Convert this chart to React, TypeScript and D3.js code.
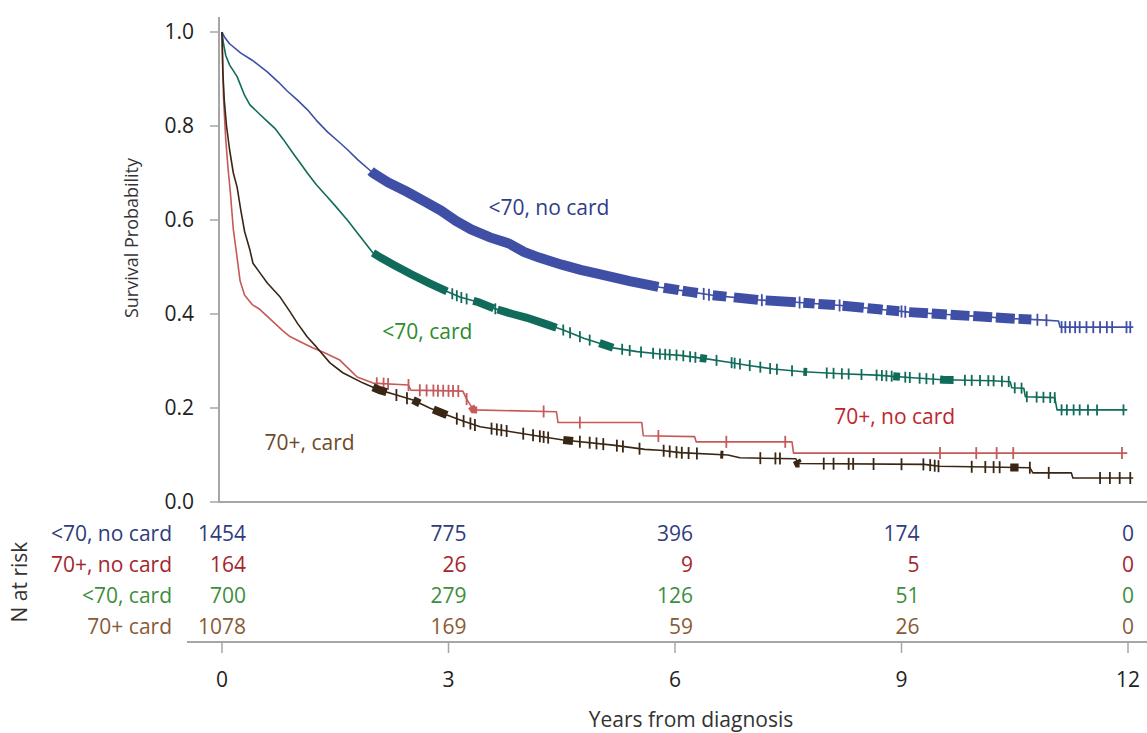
import * as d3 from 'd3'
import {useRef, useLayoutEffect} from 'react'

const W = 1147
const H = 733

const years = [0, 3, 6, 9, 12]
const yTicks = [0, 0.2, 0.4, 0.6, 0.8, 1.0]
const groupNames = ['<70, no card', '70+, no card', '<70, card', '70+ card']

// numbers at risk, one array per group (columns = years)
const riskYoungNoCard = [1454, 775, 396, 174, 0]
const riskOldNoCard = [164, 26, 9, 5, 0]
const riskYoungCard = [700, 279, 126, 51, 0]
const riskOldCard = [1078, 169, 59, 26, 0]

// Kaplan-Meier curves: [years, survival]
const youngNoCard = [
  [0, 1.0], [0.03, 0.99], [0.1, 0.975], [0.25, 0.955], [0.4, 0.94], [0.6, 0.915], [0.75, 0.893],
  [0.86, 0.875], [1.0, 0.855], [1.13, 0.835], [1.25, 0.812], [1.4, 0.787], [1.55, 0.766], [1.66, 0.75],
  [1.8, 0.728], [2.0, 0.70], [2.2, 0.68], [2.45, 0.66], [2.7, 0.638], [2.9, 0.62], [3.1, 0.598],
  [3.3, 0.58], [3.55, 0.563], [3.8, 0.55], [4.0, 0.532], [4.2, 0.52], [4.5, 0.505], [4.75, 0.494],
  [5.0, 0.485], [5.4, 0.47], [5.8, 0.457], [6.2, 0.447], [6.5, 0.44], [7.1, 0.43], [7.6, 0.425],
  [8.2, 0.418], [8.7, 0.41], [9.1, 0.404], [9.6, 0.399], [10.0, 0.395], [10.5, 0.39], [10.9, 0.387],
  [11.08, 0.385], [11.1, 0.372], [12.07, 0.372],
]
const youngCard = [
  [0, 1.0], [0.02, 0.975], [0.05, 0.95], [0.1, 0.93], [0.2, 0.905], [0.3, 0.865], [0.37, 0.845],
  [0.5, 0.825], [0.6, 0.81], [0.7, 0.795], [0.81, 0.772], [0.95, 0.74], [1.05, 0.718], [1.13, 0.70],
  [1.25, 0.675], [1.39, 0.65], [1.5, 0.63], [1.66, 0.60], [1.83, 0.565], [2.0, 0.53], [2.1, 0.52],
  [2.27, 0.505], [2.5, 0.485], [2.75, 0.465], [2.98, 0.448], [3.15, 0.436], [3.4, 0.425], [3.6, 0.412],
  [3.85, 0.4], [4.04, 0.392], [4.3, 0.378], [4.52, 0.366], [4.8, 0.348], [5.0, 0.338], [5.18, 0.328],
  [5.5, 0.32], [5.8, 0.315], [6.07, 0.312], [6.4, 0.305], [6.69, 0.298], [7.0, 0.29], [7.3, 0.283],
  [7.7, 0.277], [8.2, 0.273], [8.67, 0.27], [9.1, 0.265], [9.55, 0.26], [10.2, 0.258], [10.44, 0.256],
  [10.46, 0.243], [10.62, 0.242], [10.64, 0.224], [11.03, 0.222], [11.06, 0.196], [11.99, 0.196],
]
const oldNoCard = [
  [0, 1.0], [0.02, 0.86], [0.05, 0.77], [0.08, 0.71], [0.11, 0.66], [0.15, 0.58], [0.2, 0.52],
  [0.24, 0.47], [0.3, 0.44], [0.4, 0.42], [0.5, 0.41], [0.6, 0.395], [0.7, 0.38], [0.8, 0.365],
  [0.9, 0.352], [1.05, 0.34], [1.2, 0.328], [1.35, 0.318], [1.56, 0.302], [1.7, 0.28], [1.79, 0.266],
  [2.0, 0.253], [2.47, 0.249], [2.5, 0.238], [3.19, 0.236], [3.24, 0.219], [3.33, 0.196], [4.43, 0.192],
  [4.45, 0.169], [5.56, 0.169], [5.58, 0.141], [6.26, 0.139], [6.28, 0.128], [7.55, 0.128], [7.57, 0.104],
  [11.99, 0.104],
]
const oldCard = [
  [0, 1.0], [0.01, 0.92], [0.03, 0.855], [0.06, 0.80], [0.1, 0.75], [0.15, 0.70], [0.2, 0.67],
  [0.25, 0.62], [0.3, 0.575], [0.37, 0.536], [0.41, 0.508], [0.5, 0.488], [0.6, 0.466], [0.77, 0.436],
  [0.9, 0.405], [1.0, 0.38], [1.13, 0.351], [1.25, 0.33], [1.43, 0.296], [1.6, 0.275], [1.87, 0.253],
  [2.09, 0.238], [2.3, 0.228], [2.53, 0.217], [2.75, 0.2], [2.98, 0.185], [3.2, 0.172], [3.42, 0.16],
  [3.85, 0.149], [4.2, 0.14], [4.52, 0.132], [5.18, 0.121], [5.6, 0.112], [5.8, 0.11], [6.07, 0.105],
  [6.7, 0.1], [6.86, 0.094], [7.6, 0.092], [7.63, 0.082], [9.3, 0.08], [9.5, 0.076], [10.7, 0.073],
  [10.74, 0.062], [11.25, 0.062], [11.27, 0.051], [12.07, 0.051],
]

// censoring: runs where the marks merge into a solid band, plus single marks
const youngNoCardRuns = [
  [1.97, 5.78], [5.85, 6.05], [6.1, 6.3], [6.5, 6.68], [6.78, 7.1], [7.2, 7.6], [7.7, 7.85], [7.9, 8.12],
  [8.22, 8.5], [8.55, 8.75], [8.8, 8.97], [9.1, 9.35], [9.4, 9.6], [9.65, 9.9], [9.95, 10.2], [10.25, 10.5],
  [10.55, 10.72],
]
const youngNoCardMarks = [
  6.38, 6.45, 7.15, 7.65, 8.18, 9.0, 9.05, 10.8, 10.92, 11.12, 11.17, 11.23, 11.3, 11.36, 11.45, 11.54,
  11.63, 11.72, 11.79, 11.98, 12.03,
]
const youngCardRuns = [[2.0, 2.98], [3.33, 3.6], [3.65, 4.43], [5.0, 5.18], [6.33, 6.42], [7.7, 7.75], [8.89, 8.98], [9.51, 9.69]]
const youngCardMarks = [
  3.05, 3.11, 3.17, 3.24, 3.62, 4.52, 4.61, 4.74, 4.87, 5.3, 5.4, 5.55, 5.71, 5.80, 5.87, 5.93, 6.02,
  6.11, 6.20, 6.27, 6.55, 6.75, 6.79, 6.86, 6.99, 7.13, 7.26, 7.35, 7.55, 8.01, 8.10, 8.21, 8.30, 8.47,
  8.67, 8.74, 8.80, 8.87, 9.05, 9.11, 9.24, 9.33, 9.42, 9.84, 9.93, 10.04, 10.15, 10.22, 10.33, 10.42,
  10.50, 10.59, 10.66, 10.79, 10.88, 10.97, 11.03, 11.12, 11.19, 11.28, 11.36, 11.47, 11.59, 11.94,
]
const oldNoCardRuns = [[3.3, 3.38]]
const oldNoCardMarks = [
  2.05, 2.14, 2.20, 2.47, 2.62, 2.71, 2.80, 2.86, 2.93, 3.0, 3.06, 3.13, 3.24, 4.26, 4.74, 5.78, 6.68,
  7.46, 9.51, 9.99, 10.26, 10.48, 11.92,
]
const oldCardRuns = [[2.0, 2.18], [2.53, 2.62], [2.8, 2.98], [4.52, 4.65], [6.6, 6.64], [7.61, 7.65], [10.44, 10.55]]
const oldCardMarks = [
  2.31, 2.45, 3.11, 3.2, 3.29, 3.35, 3.57, 3.64, 3.70, 3.77, 3.99, 4.12, 4.21, 4.26, 4.32, 4.74, 4.87,
  4.96, 5.05, 5.23, 5.31, 5.53, 5.85, 5.93, 6.02, 6.09, 6.18, 6.29, 7.13, 7.33, 7.39, 7.97, 8.10, 8.30,
  8.36, 8.63, 9.00, 9.29, 9.38, 9.44, 9.49, 9.93, 10.11, 10.22, 10.30, 10.70, 10.95, 11.63, 11.76, 11.89,
  12.03,
]

const FONT = '"Open Sans", sans-serif'
const AXIS = '#a6a6a6'
const FS = 21

const series = [
  {pts: oldNoCard, runs: oldNoCardRuns, marks: oldNoCardMarks, color: '#c55a5a', band: 7, mh: 6,
    label: '70+, no card', labelColor: '#c0262d', at: [8.91, 0.181]},
  {pts: youngCard, runs: youngCardRuns, marks: youngCardMarks, color: '#116b5b', band: 8, mh: 5.5,
    label: '<70, card', labelColor: '#2e8b2e', at: [2.72, 0.362]},
  {pts: youngNoCard, runs: youngNoCardRuns, marks: youngNoCardMarks, color: '#3f4fa6', band: 10, mh: 6,
    label: '<70, no card', labelColor: '#2f3c88', at: [4.33, 0.626]},
  {pts: oldCard, runs: oldCardRuns, marks: oldCardMarks, color: '#3a2614', band: 8, mh: 6,
    label: '70+, card', labelColor: '#6e4a2a', at: [1.16, 0.126]},
]

const riskRows = [
  {vals: riskYoungNoCard, color: '#2f3c7e'},
  {vals: riskOldNoCard, color: '#a3262e'},
  {vals: riskYoungCard, color: '#3e8e3e'},
  {vals: riskOldCard, color: '#8a5a35'},
]

const App = () => {
  const svgRef = useRef(null)

  useLayoutEffect(() => {
    const svg = d3.select(svgRef.current)
    svg.selectAll('*').remove()

    const x = d3.scaleLinear().domain([0, 12]).range([222, 1128])
    const y = d3.scaleLinear().domain([0, 1]).range([502, 32])
    const row = d3.scalePoint().domain(groupNames).range([534, 627])

    const line = d3.line().x((d) => x(d[0])).y((d) => y(d[1]))
    const bis = d3.bisector((d) => d[0]).right
    // height of the drawn line at time t (for placing censor marks on it)
    const onLine = (pts, t) => {
      const i = bis(pts, t)
      if (i <= 0) return pts[0][1]
      if (i >= pts.length) return pts[pts.length - 1][1]
      const [t0, s0] = pts[i - 1]
      const [t1, s1] = pts[i]
      return s0 + (s1 - s0) * (t - t0) / (t1 - t0)
    }

    // axes
    svg.append('line').attr('x1', 219).attr('x2', 219).attr('y1', 17).attr('y2', 502)
      .attr('stroke', AXIS).attr('stroke-width', 2)
    svg.append('line').attr('x1', 218).attr('x2', W).attr('y1', 502).attr('y2', 502)
      .attr('stroke', AXIS).attr('stroke-width', 2)

    const yg = svg.append('g')
    yg.selectAll('line').data(yTicks).join('line')
      .attr('x1', 210).attr('x2', 219).attr('y1', (d) => y(d)).attr('y2', (d) => y(d))
      .attr('stroke', AXIS).attr('stroke-width', 1.5)
    yg.selectAll('text').data(yTicks).join('text')
      .attr('x', 194).attr('y', (d) => y(d)).attr('dy', '0.35em')
      .attr('text-anchor', 'end').attr('font-size', FS).attr('fill', '#222')
      .attr('font-family', FONT).text((d) => d3.format('.1f')(d))

    svg.append('text').attr('transform', 'translate(138,238) rotate(-90)')
      .attr('text-anchor', 'middle').attr('font-size', 18).attr('fill', '#333')
      .attr('font-family', FONT).text('Survival Probability')

    // curves
    series.forEach((s) => {
      const g = svg.append('g')
      g.append('path').attr('d', line(s.pts)).attr('fill', 'none')
        .attr('stroke', s.color).attr('stroke-width', 1.6).attr('stroke-linejoin', 'round')
      s.runs.forEach(([a, b]) => {
        const seg = [[a, onLine(s.pts, a)], ...s.pts.filter((p) => p[0] > a && p[0] < b), [b, onLine(s.pts, b)]]
        g.append('path').attr('d', line(seg)).attr('fill', 'none')
          .attr('stroke', s.color).attr('stroke-width', s.band).attr('stroke-linecap', 'butt')
      })
      g.selectAll('line.m').data(s.marks).join('line')
        .attr('class', 'm')
        .attr('x1', (t) => x(t)).attr('x2', (t) => x(t))
        .attr('y1', (t) => y(onLine(s.pts, t)) - s.mh).attr('y2', (t) => y(onLine(s.pts, t)) + s.mh)
        .attr('stroke', s.color).attr('stroke-width', 1.8)
      g.append('text').attr('x', x(s.at[0])).attr('y', y(s.at[1])).attr('dy', '0.35em')
        .attr('text-anchor', 'middle').attr('font-size', FS).attr('fill', s.labelColor)
        .attr('font-family', FONT).text(s.label)
    })

    // number at risk table
    svg.append('text').attr('transform', 'translate(20,582) rotate(-90)').attr('dy', '0.35em')
      .attr('text-anchor', 'middle').attr('font-size', FS).attr('fill', '#333')
      .attr('font-family', FONT).text('N at risk')

    const colLen = years.map((_, j) => d3.max(riskRows, (r) => String(r.vals[j]).length))
    riskRows.forEach((r, i) => {
      const ry = row(groupNames[i])
      svg.append('text').attr('x', 172).attr('y', ry).attr('dy', '0.35em')
        .attr('text-anchor', 'end').attr('font-size', FS).attr('fill', r.color)
        .attr('font-family', FONT).text(groupNames[i])
      svg.append('g').selectAll('text').data(r.vals).join('text')
        .attr('x', (d, j) => x(years[j]) + colLen[j] * 6).attr('y', ry).attr('dy', '0.35em')
        .attr('text-anchor', 'end').attr('font-size', FS).attr('fill', r.color)
        .attr('font-family', FONT).text((d) => d)
    })

    svg.append('line').attr('x1', 187).attr('x2', W).attr('y1', 642).attr('y2', 642)
      .attr('stroke', AXIS).attr('stroke-width', 2)
    const xg = svg.append('g')
    xg.selectAll('line').data(years).join('line')
      .attr('x1', (d) => x(d)).attr('x2', (d) => x(d)).attr('y1', 642).attr('y2', 653)
      .attr('stroke', AXIS).attr('stroke-width', 1.5)
    xg.selectAll('text').data(years).join('text')
      .attr('x', (d) => x(d)).attr('y', 680).attr('dy', '0.35em')
      .attr('text-anchor', 'middle').attr('font-size', FS).attr('fill', '#222')
      .attr('font-family', FONT).text((d) => d)

    svg.append('text').attr('x', 691).attr('y', 720).attr('dy', '0.35em')
      .attr('text-anchor', 'middle').attr('font-size', 21).attr('fill', '#333')
      .attr('font-family', FONT).text('Years from diagnosis')
  }, [])

  return (
    <svg ref={svgRef} width={W} height={H} viewBox={`0 0 ${W} ${H}`}
      style={{position: 'absolute', left: 0, top: 0, background: '#fff'}} />
  )
}

export default App
